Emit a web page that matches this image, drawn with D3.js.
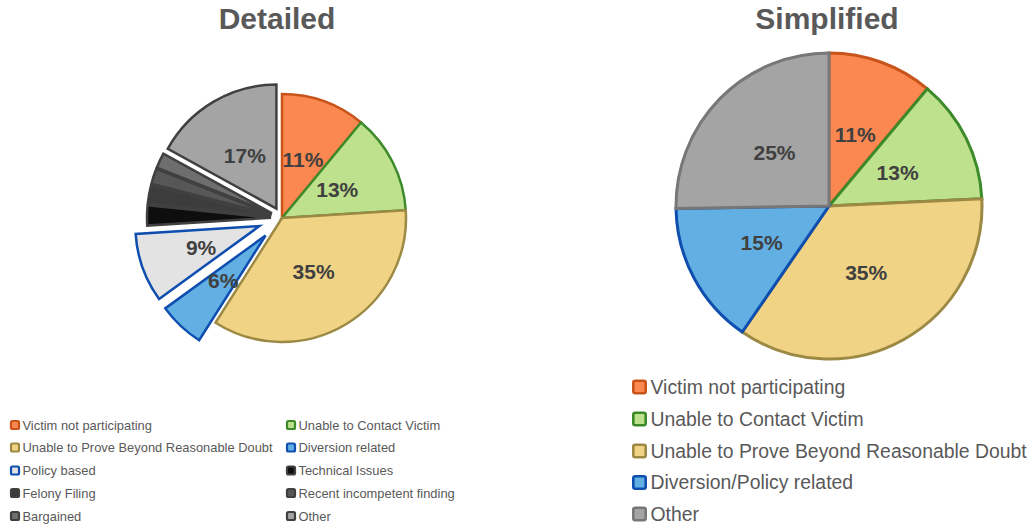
<!DOCTYPE html>
<html>
<head>
<meta charset="utf-8">
<script src="https://cdn.jsdelivr.net/npm/d3@7"></script>
<style>
  html, body { margin: 0; padding: 0; background: #ffffff; }
  svg { display: block; font-family: "Liberation Sans", Arial, sans-serif; }
</style>
</head>
<body>
<svg id="chart" width="1034" height="529"></svg>
<script>
// Detailed breakdown
const detailedCategories = [
  "Victim not participating", "Unable to Contact Victim",
  "Unable to Prove Beyond Reasonable Doubt", "Diversion related",
  "Policy based", "Technical Issues", "Felony Filing",
  "Recent incompetent finding", "Bargained", "Other"
];
const detailedValues = [11, 13, 35, 6, 9, 2.6, 2.4, 2.0, 2.0, 17];
const detailedShowLabel = [true, true, true, true, true, false, false, false, false, true];
const detailedExplode = [0, 0, 0, 24, 24, 11, 11, 11, 11, 11];
const detailedFill = ["#fb8850", "#bde18c", "#f1d386", "#62afe4", "#e3e3e3",
                      "#0e0e0e", "#3c3c3c", "#575757", "#6e6e6e", "#a3a4a3"];
const detailedStroke = ["#c9541b", "#3d8a2a", "#9c8944", "#0f4eaf", "#0f4eaf",
                        "#404040", "#404040", "#404040", "#404040", "#404040"];

// Simplified breakdown
const simpleCategories = [
  "Victim not participating", "Unable to Contact Victim",
  "Unable to Prove Beyond Reasonable Doubt", "Diversion/Policy related", "Other"
];
const simpleValues = [11, 13, 35, 15, 25];
const simpleFill = ["#fb8850", "#bde18c", "#f1d386", "#62afe4", "#a3a4a3"];
const simpleStroke = ["#c9541b", "#3d8a2a", "#9c8944", "#0f4eaf", "#777777"];

const svg = d3.select("#chart");

function drawPie(cfg) {
  const pie = d3.pie().sort(null).value(d => d.value);
  const arc = d3.arc().innerRadius(0).outerRadius(cfg.r);
  const rows = cfg.values.map((v, i) => ({
    value: v, i, fill: cfg.fill[i], stroke: cfg.stroke[i],
    explode: cfg.explode ? cfg.explode[i] : 0,
    label: cfg.showLabel ? cfg.showLabel[i] : true
  }));
  const g = svg.append("g").attr("transform", `translate(${cfg.cx},${cfg.cy})`);
  const arcs = pie(rows);
  const shift = d => {
    const mid = (d.startAngle + d.endAngle) / 2;
    return [Math.sin(mid) * d.data.explode, -Math.cos(mid) * d.data.explode];
  };
  const slices = g.selectAll("g.slice").data(arcs).enter().append("g")
    .attr("class", "slice")
    .attr("transform", d => { const s = shift(d); return `translate(${s[0]},${s[1]})`; });
  slices.append("path")
    .attr("d", arc)
    .attr("fill", d => d.data.fill)
    .attr("stroke", d => d.data.stroke)
    .attr("stroke-width", cfg.strokeWidth);
  g.selectAll("text.pct").data(arcs.filter(d => d.data.label)).enter().append("text")
    .attr("class", "pct")
    .attr("transform", d => {
      const s = shift(d); const c = arc.centroid(d);
      return `translate(${c[0] + s[0]},${c[1] + s[1]})`;
    })
    .attr("text-anchor", "middle")
    .attr("dy", "0.36em")
    .attr("font-size", 21)
    .attr("font-weight", "bold")
    .attr("fill", "#404040")
    .text(d => Math.round(d.data.value) + "%");
}

function title(text, x) {
  svg.append("text").attr("x", x).attr("y", 29)
    .attr("text-anchor", "middle").attr("font-size", 30)
    .attr("font-weight", "bold").attr("fill", "#595959").text(text);
}

title("Detailed", 277);
title("Simplified", 827);

drawPie({ cx: 282, cy: 218, r: 124, values: detailedValues, fill: detailedFill,
          stroke: detailedStroke, explode: detailedExplode, showLabel: detailedShowLabel,
          strokeWidth: 2.5 });
drawPie({ cx: 829, cy: 206, r: 153, values: simpleValues, fill: simpleFill,
          stroke: simpleStroke, strokeWidth: 3 });

// Detailed legend: two columns
const leftLegend = svg.append("g");
const colX = [10, 286];
const rowY = [425, 447.5, 470.5, 493, 516];
detailedCategories.forEach((name, i) => {
  const x = colX[i % 2], y = rowY[Math.floor(i / 2)];
  const item = leftLegend.append("g").attr("transform", `translate(${x},${y})`);
  item.append("rect").attr("x", 1).attr("y", -4).attr("width", 8).attr("height", 8)
    .attr("rx", 1.5).attr("fill", detailedFill[i])
    .attr("stroke", detailedStroke[i]).attr("stroke-width", 2.2);
  item.append("text").attr("x", 12.5).attr("y", 0).attr("dy", "0.35em")
    .attr("font-size", 12.9).attr("fill", "#595959").text(name);
});

// Simplified legend: single column
const rightLegend = svg.append("g");
const rRowY = [387, 419, 451, 482.5, 514];
simpleCategories.forEach((name, i) => {
  const item = rightLegend.append("g").attr("transform", `translate(632,${rRowY[i]})`);
  item.append("rect").attr("x", 1.3).attr("y", -6.2).attr("width", 12.4).attr("height", 12.4)
    .attr("rx", 2).attr("fill", simpleFill[i])
    .attr("stroke", simpleStroke[i]).attr("stroke-width", 2.6);
  item.append("text").attr("x", 18.5).attr("y", 0).attr("dy", "0.35em")
    .attr("font-size", 19.4).attr("fill", "#595959").text(name);
});
</script>
</body>
</html>
